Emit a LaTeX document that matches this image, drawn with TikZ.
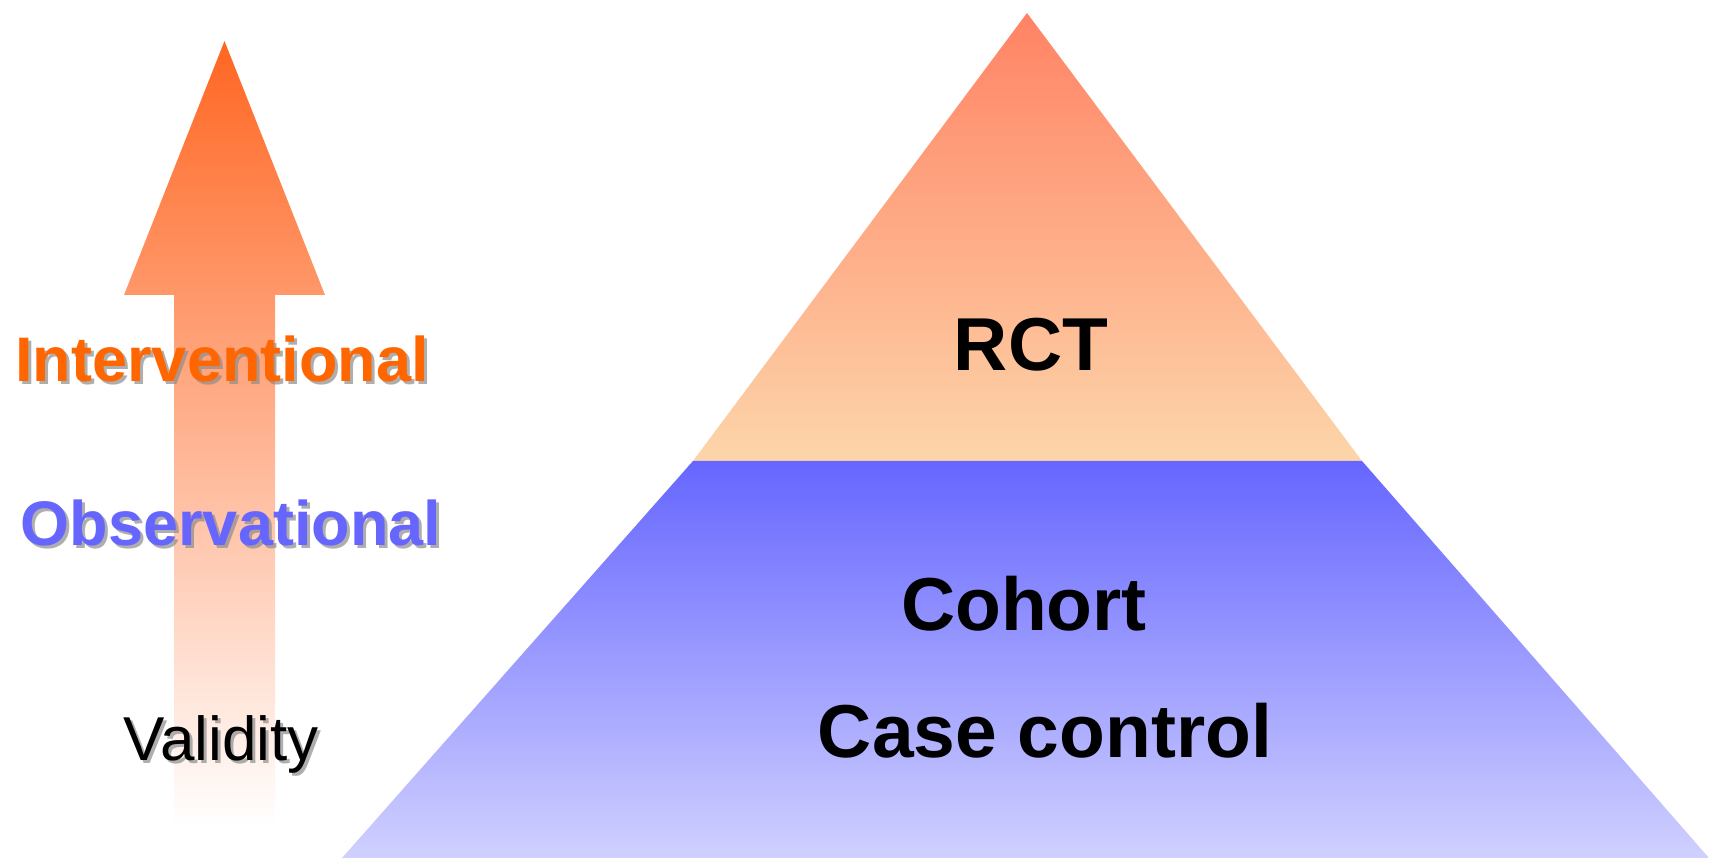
\documentclass[tikz,border=0pt]{standalone}
\usepackage{fontspec}
\setmainfont{Liberation Sans}
\begin{document}
\begin{tikzpicture}[x=1pt,y=-1pt,
  lbl/.style={inner sep=0pt,anchor=base},
  shadowtxt/.style={lbl,text=black!45,opacity=0.7},
  boldtxt/.style={font=\bfseries\fontsize{63}{63}\selectfont},
  pyrtxt/.style={lbl,font=\bfseries\fontsize{75}{75}\selectfont,text=black}]
\definecolor{orTop}{RGB}{255,102,34}
\definecolor{arMid}{RGB}{255,178,150}
\definecolor{triTop}{RGB}{255,131,100}
\definecolor{triBot}{RGB}{253,213,170}
\definecolor{trapTop}{RGB}{102,102,255}
\definecolor{trapBot}{RGB}{208,208,255}
\definecolor{interv}{RGB}{255,102,0}
\definecolor{observ}{RGB}{102,102,255}
\useasboundingbox (0,0) rectangle (1709,858);
% arrow
\shade[top color=orTop, middle color=arMid, bottom color=white]
  (224.5,41) -- (325,295) -- (275,295) -- (275,825) -- (174,825) -- (174,295) -- (124,295) -- cycle;
% pyramid top
\shade[top color=triTop, bottom color=triBot]
  (1027,13) -- (1362,461) -- (693,461) -- cycle;
% pyramid bottom
\shade[top color=trapTop, bottom color=trapBot]
  (693,461) -- (1362,461) -- (1709,858) -- (342,858) -- cycle;
% left labels
\node[shadowtxt,boldtxt] (intS) at (225,385) {Interventional};
\node[lbl,boldtxt,text=interv] (int) at (222,382) {Interventional};
\node[shadowtxt,boldtxt] (obsS) at (234,548) {Observational};
\node[lbl,boldtxt,text=observ] (obs) at (231,545) {Observational};
\node[shadowtxt,font=\fontsize{62}{62}\selectfont] (valS) at (224,763) {Validity};
\node[lbl,font=\fontsize{62}{62}\selectfont,text=black] (val) at (221,760) {Validity};
% pyramid labels
\node[pyrtxt] (rct) at (1031,371) {RCT};
\node[pyrtxt] (coh) at (1024,630) {Cohort};
\node[pyrtxt] (cc) at (1045,757) {Case control};
\end{tikzpicture}
\end{document}
